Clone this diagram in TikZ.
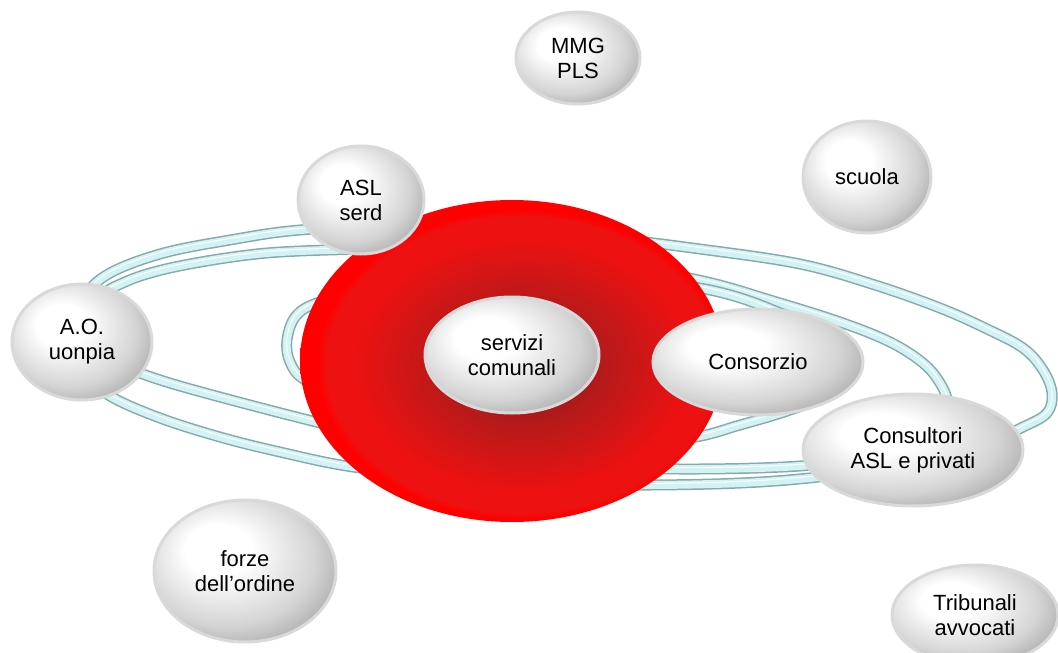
\documentclass[tikz,border=0pt]{standalone}
\usepackage{fontspec}
\setmainfont{Liberation Sans}
\usetikzlibrary{shapes.geometric}

% colours
\definecolor{tubeedge}{HTML}{86AAAC}
\definecolor{tubebody}{HTML}{D2F2F3}
\definecolor{bubbleline}{HTML}{D9D9D9}
\definecolor{pearlmid}{HTML}{D4D4D4}
\definecolor{pearldark}{HTML}{8C8C8C}
\definecolor{rdark}{HTML}{8A1515}
\definecolor{rmid}{HTML}{B51A1A}
\definecolor{rlight}{HTML}{EE1111}

% shading of the grey bubbles: light from the upper left
\pgfdeclareradialshading{pearl}{\pgfpoint{-9bp}{9bp}}{%
  color(0bp)=(white); color(9bp)=(white); color(24bp)=(pearlmid);
  color(38bp)=(pearldark); color(50bp)=(pearldark)}

% shading of the red disc: dark core, bright rim
\pgfdeclareradialshading{reddisc}{\pgfpoint{2bp}{-1bp}}{%
  color(0bp)=(rdark); color(9bp)=(rmid); color(20bp)=(rlight);
  color(23bp)=(rlight); color(24bp)=(red); color(50bp)=(red)}

\tikzset{
  bubble/.style={ellipse, draw=bubbleline, line width=3pt, shading=pearl,
    inner sep=0pt, align=center, font=\fontsize{22}{25}\selectfont},
  tube/.style={draw=tubebody, line width=8pt, line join=round,
    preaction={draw=tubeedge, line width=11pt, line join=round},
    postaction={draw=white, line width=1.1pt, transform canvas={yshift=1.6pt}}},
}

\begin{document}
\begin{tikzpicture}[x=1pt,y=-1pt]
\useasboundingbox (0,0) rectangle (1058,653);

% outer ring
\draw[tube] plot[smooth cycle, tension=0.6] coordinates {
  (72,345) (80,305) (105,276) (160,254) (230,240) (300,230) (400,226)
  (500,229) (600,237) (700,249) (800,264) (875,285) (940,308) (985,328)
  (1023,348) (1043,370) (1052,393) (1047,413) (1023,427) (990,441)
  (930,458) (850,473) (760,482) (650,485) (550,483) (450,477) (353,467)
  (280,452) (220,437) (160,418) (110,396) (82,372)};
% inner ring
\draw[tube] plot[smooth cycle, tension=0.6] coordinates {
  (95,345) (100,300) (125,282) (170,268) (240,256) (300,251) (400,249)
  (500,252) (600,262) (703,281) (770,300) (840,322) (890,342) (923,363)
  (940,383) (948,403) (945,420) (925,440) (880,455) (800,466) (680,469)
  (580,465) (500,458) (400,443) (320,423) (250,405) (180,386) (140,373)
  (110,360)};
% small ring hugging the disc
\draw[tube] plot[smooth cycle, tension=0.6] coordinates {
  (287,340) (296,316) (320,302) (380,288) (450,281) (600,279) (705,289)
  (780,313) (830,343) (840,372) (825,395) (790,410) (740,425) (690,438)
  (600,447) (500,440) (420,422) (350,400) (305,380) (290,362)};

% red disc
\shade[shading=reddisc] (512,361) ellipse [x radius=212, y radius=161];

% bubbles
\node[bubble, shade, minimum width=124pt, minimum height=92pt] (mmg) at (578,58) {MMG\\PLS};
\node[bubble, shade, minimum width=128pt, minimum height=112pt] (scuola) at (867,177) {scuola};
\node[bubble, shade, minimum width=126pt, minimum height=108pt] (asl) at (361,200) {ASL\\serd};
\node[bubble, shade, minimum width=140pt, minimum height=116pt] (ao) at (82,342) {A.O.\\uonpia};
\node[bubble, shade, minimum width=174pt, minimum height=116pt] (servizi) at (512,355) {servizi\\comunali};
\node[bubble, shade, minimum width=210pt, minimum height=106pt] (consorzio) at (758,362) {Consorzio};
\node[bubble, shade, minimum width=220pt, minimum height=112pt] (consultori) at (913,450) {Consultori\\ASL e privati};
\node[bubble, shade, minimum width=182pt, minimum height=142pt] (forze) at (245,571) {forze\\dell’ordine};
\node[bubble, shade, minimum width=166pt, minimum height=100pt] (tribunali) at (975,615) {Tribunali\\avvocati};
\end{tikzpicture}
\end{document}
